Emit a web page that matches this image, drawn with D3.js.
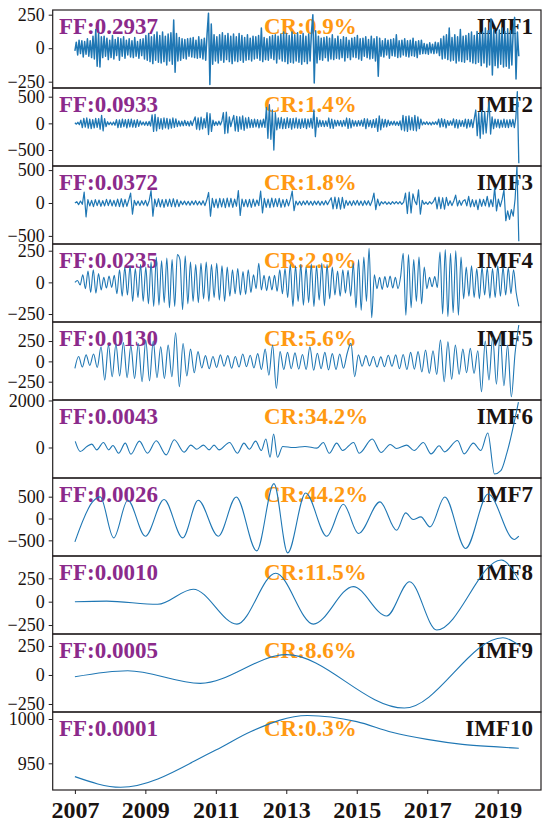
<!DOCTYPE html>
<html>
<head>
<meta charset="utf-8">
<script src="https://cdn.jsdelivr.net/npm/d3@7"></script>
<style>
  body { margin: 0; background: #fff; }
  svg { display: block; }
</style>
</head>
<body>
<svg id="chart" width="550" height="828"></svg>
<script>
// time span of the decomposed series (evenly sampled)
const startYear = 2007;
const endYear = 2019.6;

const imfNames = ["IMF1", "IMF2", "IMF3", "IMF4", "IMF5", "IMF6", "IMF7", "IMF8", "IMF9", "IMF10"];
const ffLabels = ["FF:0.2937", "FF:0.0933", "FF:0.0372", "FF:0.0235", "FF:0.0130",
                  "FF:0.0043", "FF:0.0026", "FF:0.0010", "FF:0.0005", "FF:0.0001"];
const crLabels = ["CR:0.9%", "CR:1.4%", "CR:1.8%", "CR:2.9%", "CR:5.6%",
                  "CR:34.2%", "CR:44.2%", "CR:11.5%", "CR:8.6%", "CR:0.3%"];
const yTicks = [[-250, 0, 250], [-500, 0, 500], [-500, 0, 500], [-250, 0, 250], [-250, 0, 250],
                [0, 2000], [-500, 0, 500], [-250, 0, 250], [-250, 0, 250], [950, 1000]];
const yDomains = [[-297, 285], [-800, 663], [-623, 562], [-313, 303], [-475, 484],
                  [-1298, 2020], [-859, 928], [-346, 489], [-319, 353], [919.9, 1007.9]];
const xTicks = [2007, 2009, 2011, 2013, 2015, 2017, 2019];

// high-frequency modes: evenly sampled values between startYear and endYear
const imf1 = [
  -20, 45, -50, 60, -40, 55, -65, 50, -45, 70, -60, 55, -70, 90, -80, 140, -135, 110, -140, 85,
  -70, 90, -60, 75, -85, 60, -70, 95, -80, 65, -55, 80, -90, 70, -60, 85, -75, 60, -50, 70,
  -65, 55, -70, 80, -60, 50, -75, 65, -55, 70, -80, 95, -90, 110, -100, 85, -115, 100, -90, 120,
  -105, 95, -110, 120, -100, 90, -125, 105, -95, 115, -120, 210, -180, 110, -95, 80, -90, 70, -75, 65,
  -80, 70, -60, 75, -65, 80, -70, 60, -75, 85, -70, 65, -80, 75, -90, 110, 260, -270, 180, -120,
  100, -95, 85, -110, 100, -90, 115, -105, 95, -85, 110, -100, 90, -115, 105, -95, 85, -100, 110, -90,
  95, -105, 80, -90, 100, -85, 75, -95, 90, -80, 85, -75, 95, -90, 150, -100, 80, -85, 70, -90,
  85, -75, 95, -85, 100, -110, 90, -80, 105, -95, 120, -100, 110, -115, 95, -105, 120, -110, 100, -95,
  115, -105, 95, -120, 110, -100, 90, -115, 105, -95, 120, 250, -260, 130, -110, 90, -85, 75, -90, 80,
  -70, 85, -95, 75, -80, 100, -85, 70, -75, 90, -80, 65, -70, 85, -95, 80, -70, 60, -85, 75,
  -65, 80, -70, 95, -80, 70, -90, 75, -60, 85, -70, 65, -80, 90, -75, 70, -95, 85, -210, 75,
  -60, 55, -65, 70, -50, 60, -75, 65, -55, 70, -60, 100, -70, 55, -65, 60, -50, 70, -60, 55,
  -65, 60, -55, 75, -60, 50, -70, 55, -45, 60, -40, 35, -40, 30, -45, 40, -35, 30, -40, 45,
  -35, 40, -55, 70, -80, 90, -75, 100, -85, 150, -95, 80, -90, 100, -110, 85, -95, 140, -100, 90,
  -105, 95, -85, 110, -100, 120, -110, 95, -115, 125, -105, 115, -130, 120, -110, 150, -140, 130, -125, 220,
  -200, 140, -130, 120, -145, 135, -120, 150, -140, 125, -135, 145, -150, 130, -125, 140, 230, -230, 120, -60
];
const imf2 = [
  10, -15, 20, -25, 60, -80, 95, -70, 100, -90, 80, -100, 70, -85, 95, -75, 90, -110, 150, -140,
  90, -60, 30, -25, 20, -30, 25, -35, 70, -80, 65, -75, 80, -60, 70, -85, 75, -65, 80, -70,
  60, -75, 70, -55, 45, -30, 25, -35, 30, -40, 35, -50, 160, -150, 170, -140, 110, -100, 90, -110,
  100, -85, 95, -105, 80, -90, 100, -75, 85, -60, 45, -50, 40, -45, 55, -40, 35, -50, 45, -40,
  50, 120, -110, 100, -120, 115, -105, 90, -80, 200, -210, 180, -150, 60, -40, 30, -35, 40, -30, 45,
  200, -190, 210, -180, 120, -60, 50, 150, -140, 130, -150, 120, -110, 140, -130, 100, -90, 110, -80, 70,
  -75, 80, -65, 70, -85, 60, -70, 80, -75, 300, -280, 350, -300, 250, -500, 200, -120, 100, -90, 110,
  -100, 85, -95, 105, -80, 90, -110, 95, -85, 100, -90, 80, -95, 85, -75, 90, -100, 80, -70, 95,
  -90, 250, -250, 110, -70, 60, -55, 50, -60, 45, -55, 100, -90, 80, -95, 60, -50, 55, -45, 50,
  -60, 55, -50, 100, -95, 90, -85, 60, -50, 45, -55, 50, -45, 60, -55, 90, -100, 85, -60, 55,
  -80, 70, -75, 90, -150, 140, -120, 80, -70, 75, -65, 60, -40, 35, -30, 40, -35, 30, -40, 45,
  -120, 150, -140, 130, -150, 140, -120, 110, -130, 150, -140, 120, -100, 80, -30, 25, -20, 30, -25, 20,
  -30, 25, -20, 30, -25, 80, -70, 90, -60, 75, -85, 50, -40, 45, -35, 85, -80, 70, -90, 60,
  -55, 50, -60, 80, -90, 75, -65, 70, -80, 90, 250, -230, 200, -280, 240, -200, 220, -180, 150, 400,
  -200, 120, -100, 80, -70, 75, -85, 60, -70, 80, -75, 65, -80, 70, -60, 75, -80, 100, 593, -750
];
const imf3 = [
  0, 20, -25, 30, -20, 164, -210, 50, -45, 40, -55, 50, -40, 45, -50, 35, -45, 55, -40, 50,
  -45, 40, -50, 60, -55, 65, -60, 55, -50, 45, 150, -170, 40, -35, 30, -40, 35, -30, 40, -45,
  35, 190, -200, 60, -55, 65, -60, 50, -65, 55, -50, 60, -55, 65, -60, 50, -55, 30, -25, 30,
  -30, 25, -35, 30, -25, 35, -30, 25, -30, 35, -40, 45, 160, -200, 70, -65, 60, -75, 70, -60,
  65, -70, 75, -60, 70, -65, 60, -50, 190, -190, 60, -55, 50, -60, 55, -65, 60, -50, 45, -40,
  180, -150, 70, -65, 60, -70, 75, -60, 65, -55, 70, -65, 50, -60, 55, -45, 50, 180, -118, 30,
  -30, 25, -35, 30, -25, 35, -30, 25, -35, 30, -25, 30, -35, 25, -30, 35, -25, 30, 80, -90,
  90, -85, 80, -95, 85, -80, 40, -35, 30, -40, 35, -30, 40, -35, 30, -40, 35, -30, 35, -40,
  30, 150, -100, 60, -40, 20, -15, 20, -20, 15, -20, 20, -15, 20, -15, 20, -20, 15, 150, -160,
  165, -150, 140, 30, -25, 200, -170, 40, -20, 15, -20, 20, -15, 20, 85, -90, 90, -85, 80, -95,
  85, -40, 35, -40, 30, 120, -45, 40, -35, 30, 50, -45, 100, -60, 50, -55, 45, -100, 60, -50,
  55, -45, 100, -60, 50, -55, 230, -120, 60, -55, 50, 200, -270, -120, -250, -100, -200, 60, 560, -580
];
const imf4 = [
  0, 15, -20, 60, -50, 90, -80, 100, -85, 70, -60, 40, -45, 50, -40, 55, -90, 100, -110, 120,
  -100, 130, -150, 110, -120, 140, -150, 120, -170, 160, -190, 200, -180, 170, -160, 192, -200, 180, -190, 220,
  180, -216, 210, -170, 160, -150, 140, -160, 150, -130, 160, -150, 140, -120, 150, -140, 130, -150, 120, -110,
  100, -90, 110, -100, 85, -95, 100, -80, 60, -50, 150, -60, 55, -65, 50, -60, 55, -70, 100, -90,
  110, -120, 140, -190, 130, -150, 140, -180, 120, -160, 145, -190, 130, -140, 150, -185, 140, -130, 120, -100,
  90, -110, 100, -85, 95, -110, 150, -200, 180, -220, 200, -150, 270, -280, 60, -50, 40, -55, 45, -40,
  50, -45, 40, -50, 45, 230, -260, 220, -200, 180, -150, 200, -170, 120, -50, 40, -35, 45, -40, 240,
  -250, 260, -270, 230, -240, 250, -260, 200, -130, 120, -110, 130, -120, 110, -130, 120, -100, 115, -125, 110,
  -120, 130, -110, 120, -100, 115, -90, 100, -80, -190
];
const imf5 = [
  -86, 60, -70, 80, -50, 90, -75, 180, -230, 200, -190, 210, -180, 230, -200, 190, -210, 220, -250, 260,
  -240, 250, -200, 180, -210, 200, -190, 352, -312, 220, -180, 150, -140, 120, -80, 70, -90, 60, -75, 80,
  -60, 70, -85, 60, -70, 90, -65, 75, -80, 95, -100, 150, -170, 200, -332, 120, -100, 110, -90, 105,
  -95, 85, -100, 180, -110, 100, -90, 110, -105, 95, -100, 90, -85, 100, 221, -189, 80, -60, 70, -55,
  60, -70, 55, -65, 75, -60, 80, -90, 85, -100, 110, -95, 120, -130, 140, -150, 130, -160, 262, -250,
  240, -220, 200, -160, 150, -140, 160, -150, 130, -373, 250, -230, 300, -280, 344, -300, 200, -435, 100, 447
];

// low-frequency modes: [year, value] turning points
const imf6 = [
  [2007.01, 257], [2007.15, -172], [2007.34, 43], [2007.48, 143], [2007.62, -100], [2007.81, 215],
  [2007.96, -100], [2008.08, 86], [2008.24, -243], [2008.43, 186], [2008.59, -286], [2008.83, 272],
  [2009.06, -243], [2009.31, 286], [2009.59, -315], [2009.82, 329], [2010.10, -200], [2010.29, 100],
  [2010.46, -72], [2010.65, 100], [2010.81, -100], [2010.95, 100], [2011.09, -100], [2011.39, 215],
  [2011.61, -243], [2011.80, 186], [2011.95, -72], [2012.13, 272], [2012.29, -129], [2012.42, 358],
  [2012.54, -415], [2012.64, 572], [2012.75, -415], [2012.90, 43], [2013.20, 0], [2013.53, 43],
  [2013.87, -29], [2014.05, 215], [2014.22, -243], [2014.43, 186], [2014.60, -129], [2014.91, 215],
  [2015.07, -243], [2015.44, 358], [2015.69, -215], [2015.95, 129], [2016.13, -43], [2016.42, 100],
  [2016.63, -129], [2016.89, 215], [2017.11, -272], [2017.34, 72], [2017.49, -186], [2017.86, 300],
  [2018.05, -272], [2018.31, 186], [2018.52, -129], [2018.72, 615], [2018.91, -1130], [2019.09, -987],
  [2019.26, -243], [2019.59, 1930]
];
const imf7 = [
  [2007.0, -535], [2007.5, 380], [2007.72, 495], [2008.1, -444], [2008.5, 419], [2009.0, -405],
  [2009.53, 435], [2010.06, -444], [2010.5, 419], [2011.07, -405], [2011.58, 494], [2012.16, -741],
  [2012.65, 800], [2013.04, -787], [2013.55, 586], [2014.15, -405], [2014.62, 327], [2015.05, -343],
  [2015.66, 380], [2016.13, -268], [2016.39, 128], [2016.6, -23], [2016.82, 37], [2017.08, -192],
  [2017.5, 494], [2018.09, -686], [2018.73, 560], [2019.47, -480], [2019.6, -405]
];
const imf8 = [
  [2007.0, 0], [2007.9, 6], [2009.35, -28], [2010.36, 133], [2011.6, -240], [2012.7, 305],
  [2013.77, -240], [2014.9, 161], [2015.85, -153], [2016.5, 214], [2017.27, -303], [2019.1, 446],
  [2019.6, 232]
];
const imf9 = [
  [2007.0, -15], [2008.5, 37], [2010.56, -72], [2013.0, 175], [2016.35, -285], [2019.15, 321],
  [2019.6, 258]
];
const imf10 = [
  [2007.0, 935], [2008.3, 923], [2011.0, 965], [2012.0, 986], [2013.6, 1004], [2015.0, 997],
  [2016.0, 985], [2017.0, 977], [2018.0, 971.4], [2019.0, 968.5], [2019.6, 967]
];

function evenly(values) {
  const step = (endYear - startYear) / (values.length - 1);
  return values.map((v, i) => [startYear + i * step, v]);
}

const series = [
  { pts: evenly(imf1), curve: d3.curveLinear, width: 1.5 },
  { pts: evenly(imf2), curve: d3.curveLinear, width: 1.3 },
  { pts: evenly(imf3), curve: d3.curveLinear, width: 1.2 },
  { pts: evenly(imf4), curve: d3.curveMonotoneX, width: 1.1 },
  { pts: evenly(imf5), curve: d3.curveMonotoneX, width: 1.1 },
  { pts: imf6, curve: d3.curveMonotoneX, width: 1.1 },
  { pts: imf7, curve: d3.curveMonotoneX, width: 1.1 },
  { pts: imf8, curve: d3.curveMonotoneX, width: 1.1 },
  { pts: imf9, curve: d3.curveMonotoneX, width: 1.1 },
  { pts: imf10, curve: d3.curveMonotoneX, width: 1.1 }
];

const W = 550;
const margin = { left: 52.7, right: 9, top: 10 };
const panelH = 78;
const serif = "'Liberation Serif', 'Times New Roman', serif";
const frameColor = "#231f20";

const svg = d3.select("#chart");

const x = d3.scaleLinear()
  .domain([2006.37, 2020.23])
  .range([margin.left, W - margin.right]);

series.forEach((s, k) => {
  const top = margin.top + k * panelH;
  const y = d3.scaleLinear().domain(yDomains[k]).range([top + panelH, top]);
  const g = svg.append("g");

  g.append("clipPath").attr("id", "clip" + k)
    .append("rect")
    .attr("x", x.range()[0]).attr("y", top)
    .attr("width", x.range()[1] - x.range()[0]).attr("height", panelH);

  // annotations (drawn under the signal, as in the figure)
  const txt = g.append("g")
    .style("font-family", serif)
    .style("font-weight", "bold")
    .style("font-size", "23px");
  txt.append("text").attr("x", 59).attr("y", top + 23.5)
    .attr("fill", "#8b2a8b").text(ffLabels[k]);
  txt.append("text").attr("x", 264).attr("y", top + 23.5)
    .attr("fill", "#ff9912").text(crLabels[k]);
  txt.append("text").attr("x", 533).attr("y", top + 23.5)
    .attr("text-anchor", "end").attr("fill", "#1a1311").text(imfNames[k]);

  const line = d3.line()
    .x(d => x(d[0]))
    .y(d => y(d[1]))
    .curve(s.curve);

  g.append("path")
    .datum(s.pts)
    .attr("clip-path", "url(#clip" + k + ")")
    .attr("fill", "none")
    .attr("stroke", "#1f77b4")
    .attr("stroke-width", s.width)
    .attr("stroke-linejoin", "round")
    .attr("d", line);

  // y axis
  const ya = g.append("g")
    .attr("transform", `translate(${margin.left},0)`)
    .call(d3.axisLeft(y).tickValues(yTicks[k]).tickSize(4).tickPadding(4).tickFormat(d3.format("d")));
  ya.select(".domain").remove();
  ya.selectAll(".tick line").attr("stroke", frameColor).attr("stroke-width", 1);
  ya.selectAll(".tick text")
    .style("font-family", serif)
    .style("font-size", "18px")
    .attr("fill", "#1a1311");

  // frame
  g.append("rect")
    .attr("x", x.range()[0]).attr("y", top)
    .attr("width", x.range()[1] - x.range()[0]).attr("height", panelH)
    .attr("fill", "none")
    .attr("stroke", frameColor)
    .attr("stroke-width", 1.2);
});

// shared x axis under the last panel
const bottom = margin.top + series.length * panelH;
const xa = svg.append("g")
  .attr("transform", `translate(0,${bottom})`)
  .call(d3.axisBottom(x).tickValues(xTicks).tickSize(4).tickPadding(7).tickFormat(d3.format("d")));
xa.select(".domain").remove();
xa.selectAll(".tick line").attr("stroke", frameColor).attr("stroke-width", 1);
xa.selectAll(".tick text")
  .style("font-family", serif)
  .style("font-weight", "bold")
  .style("font-size", "24px")
  .attr("fill", "#1a1311");
</script>
</body>
</html>
